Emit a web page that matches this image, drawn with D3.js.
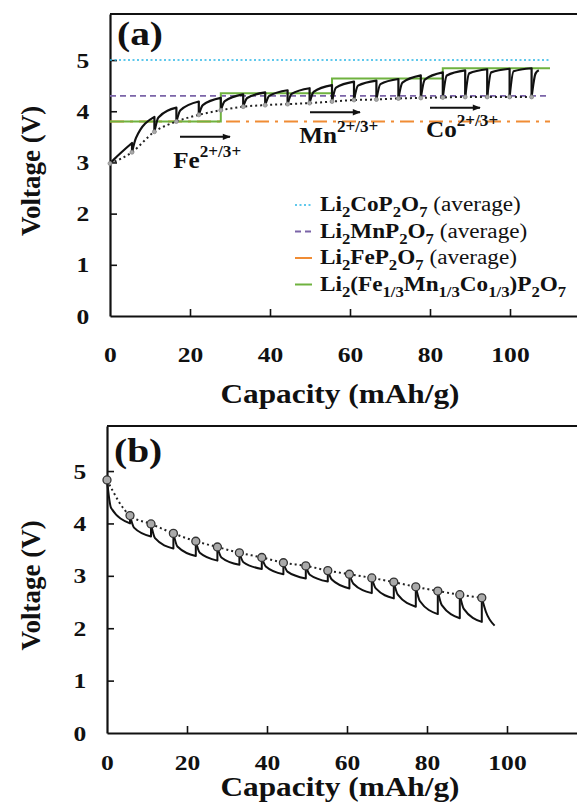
<!DOCTYPE html>
<html>
<head>
<meta charset="utf-8">
<script src="https://cdn.jsdelivr.net/npm/d3@7"></script>
<style>
  body { margin: 0; background: #fff; }
  svg text { font-family: "Liberation Serif", "Times New Roman", serif; fill: #111; }
</style>
</head>
<body>
<svg id="chart"></svg>
<script>
const width = 577, height = 803
const capTicks = [0, 20, 40, 60, 80, 100]
const voltTicks = [0, 1, 2, 3, 4, 5]

// (a) GITT charge: pulse start capacity, relaxed voltage, voltage ~1 mAh/g into the pulse, voltage at pulse end
const chargeCap  = [0, 5.5, 11.1, 16.6, 22.2, 27.7, 33.3, 38.8, 44.4, 49.9, 55.5, 61.0, 66.6, 72.1, 77.7, 83.2, 88.8, 94.3, 99.9, 105.4]
const chargeOcv  = [2.98, 3.20, 3.60, 3.80, 3.93, 4.02, 4.09, 4.12, 4.14, 4.16, 4.19, 4.22, 4.23, 4.25, 4.26, 4.27, 4.28, 4.28, 4.28, 4.28]
const chargeKnee = [3.06, 3.48, 3.88, 4.02, 4.12, 4.20, 4.26, 4.30, 4.34, 4.38, 4.46, 4.50, 4.53, 4.56, 4.62, 4.70, 4.74, 4.76, 4.78, 4.74]
const chargeEnd  = [3.38, 3.89, 4.07, 4.19, 4.26, 4.33, 4.37, 4.41, 4.45, 4.51, 4.58, 4.60, 4.63, 4.70, 4.76, 4.80, 4.82, 4.83, 4.84, 4.80]
const chargeStop = 107.2

// averages of the single-metal pyrophosphates and the mixed one
const refVolt = [5.0, 4.3, 3.8]
const refEnd = 110
const mixCap  = [0, 27.7, 55.5, 83.2, 110]
const mixVolt = [3.8, 4.35, 4.64, 4.84, 4.84]

// (b) GITT discharge
const dischargeCap  = [0, 5.75, 11.0, 16.6, 22.2, 27.6, 33.1, 38.7, 44.1, 49.7, 55.2, 60.6, 66.2, 71.7, 77.2, 82.7, 88.2, 93.7]
const dischargeOcv  = [4.83, 4.15, 3.99, 3.81, 3.66, 3.55, 3.44, 3.35, 3.25, 3.19, 3.10, 3.03, 2.96, 2.88, 2.79, 2.71, 2.64, 2.58]
const dischargeKnee = [4.30, 3.92, 3.72, 3.56, 3.44, 3.35, 3.26, 3.18, 3.08, 3.02, 2.93, 2.85, 2.76, 2.64, 2.52, 2.44, 2.37, 2.32]
const dischargeEnd  = [4.00, 3.75, 3.52, 3.38, 3.29, 3.21, 3.13, 3.03, 2.95, 2.89, 2.76, 2.67, 2.57, 2.41, 2.27, 2.19, 2.12, 2.05]
const dischargeStop = 96.9
const kneeStep = 1

const refColors = ['#2bb7e6', '#7b64a8', '#f08c34']
const refDash = ['2,2.5', '6,4', '14,6,3,6']
const mixColor = '#6fb23f'
const stretch = 1.16   // the source figure is a little wider than tall

const legendLabels = [
  [['Li'], ['2', 'sub'], ['CoP'], ['2', 'sub'], ['O'], ['7', 'sub'], [' (average)', 'n']],
  [['Li'], ['2', 'sub'], ['MnP'], ['2', 'sub'], ['O'], ['7', 'sub'], [' (average)', 'n']],
  [['Li'], ['2', 'sub'], ['FeP'], ['2', 'sub'], ['O'], ['7', 'sub'], ['  (average)', 'n']],
  [['Li'], ['2', 'sub'], ['(Fe'], ['1/3', 'sub'], ['Mn'], ['1/3', 'sub'], ['Co'], ['1/3', 'sub'], [')P'], ['2', 'sub'], ['O'], ['7', 'sub']]
]

const svg = d3.select('#chart').attr('width', width).attr('height', height)
svg.append('rect').attr('width', width).attr('height', height).attr('fill', '#fff')

svg.append('defs').append('marker')
  .attr('id', 'arrow')
  .attr('viewBox', '0 0 10 10')
  .attr('refX', 9).attr('refY', 5)
  .attr('markerUnits', 'userSpaceOnUse')
  .attr('markerWidth', 10).attr('markerHeight', 8)
  .attr('orient', 'auto')
  .append('path').attr('d', 'M0,1L10,5L0,9Z').attr('fill', '#111')

function rich(textSel, parts, size, subScale) {
  let shift = 0
  parts.forEach(([str, kind]) => {
    const target = kind === 'sub' ? 0.3 * size : kind === 'sup' ? -0.45 * size : 0
    textSel.append('tspan')
      .attr('dy', target - shift)
      .attr('font-size', kind === 'sub' || kind === 'sup' ? size * subScale : size)
      .attr('font-weight', kind === 'n' ? 'normal' : 'bold')
      .text(str)
    shift = target
  })
}

function drawFrame(p) {
  const x = d3.scaleLinear().domain([0, 120]).range([p.left, p.left + 480])
  const y = d3.scaleLinear().domain([0, p.vMax]).range([p.bottom, p.top])
  const fmt = d3.format('d')

  const gx = svg.append('g')
    .attr('transform', `translate(0,${p.bottom})`)
    .call(d3.axisBottom(x).tickValues(capTicks).tickFormat(fmt).tickSizeInner(-7).tickSizeOuter(0).tickPadding(p.tickPad))
  const gy = svg.append('g')
    .attr('transform', `translate(${p.left},0)`)
    .call(d3.axisLeft(y).tickValues(voltTicks).tickFormat(fmt).tickSizeInner(-7).tickSizeOuter(0).tickPadding(18))

  ;[gx, gy].forEach(g => {
    g.select('.domain').attr('stroke', '#111').attr('stroke-width', 2.2)
    g.selectAll('.tick line').attr('stroke', '#111').attr('stroke-width', 1.6)
    g.selectAll('.tick').filter(d => d === 0).select('line').remove()
    g.selectAll('.tick text')
      .attr('font-size', 22).attr('font-weight', 'bold')
      .attr('font-family', '"Liberation Serif", "Times New Roman", serif').attr('fill', '#111')
      .attr('transform', `scale(${stretch},1)`)
  })

  svg.append('line')
    .attr('x1', x(0)).attr('x2', x(120))
    .attr('y1', y(p.vMax)).attr('y2', y(p.vMax))
    .attr('stroke', '#111').attr('stroke-width', 2.2)

  svg.append('text')
    .attr('transform', `translate(${p.left + 7},${p.tagY}) scale(${stretch},1)`)
    .attr('font-size', 34).attr('font-weight', 'bold')
    .text(p.tag)

  svg.append('text')
    .attr('transform', `translate(40,${(p.top + p.bottom) / 2 + 6}) rotate(-90)`)
    .attr('text-anchor', 'middle')
    .attr('font-size', 27).attr('font-weight', 'bold')
    .text('Voltage (V)')

  svg.append('text')
    .attr('transform', `translate(340,${p.titleY}) scale(${stretch},1)`)
    .attr('text-anchor', 'middle')
    .attr('font-size', 27).attr('font-weight', 'bold')
    .text('Capacity (mAh/g)')

  return { x, y }
}

function drawGitt(sc, caps, ocv, knee, end, stop, r, strokeW) {
  const { x, y } = sc
  const mono = d3.line().x(d => x(d[0])).y(d => y(d[1])).curve(d3.curveMonotoneX)
  const g = svg.append('g')

  // relaxed (OCV) points, joined by a dotted line
  g.append('path')
    .datum(caps.map((c, i) => [c, ocv[i]]))
    .attr('d', mono)
    .attr('fill', 'none').attr('stroke', '#222')
    .attr('stroke-width', 2).attr('stroke-dasharray', '2,3')

  caps.forEach((c, i) => {
    const next = i < caps.length - 1 ? caps[i + 1] : stop
    let d = mono([[c, ocv[i]], [c + kneeStep, knee[i]], [next, end[i]]])
    if (i < caps.length - 1) d += `L${x(next)},${y(ocv[i + 1])}`
    g.append('path').attr('d', d)
      .attr('fill', 'none').attr('stroke', '#111')
      .attr('stroke-width', strokeW).attr('stroke-linejoin', 'round')
  })

  g.selectAll('circle')
    .data(caps.map((c, i) => [c, ocv[i]]))
    .join('circle')
    .attr('cx', d => x(d[0])).attr('cy', d => y(d[1]))
    .attr('r', r)
    .attr('fill', '#aaa').attr('stroke', r > 3 ? '#333' : '#888').attr('stroke-width', r > 3 ? 1.3 : 0.8)
}

// ---------- panel (a) ----------
const a = drawFrame({ top: 14, bottom: 316, left: 110, vMax: 5.9, tag: '(a)', tagY: 45, tickPad: 30, titleY: 403 })

refVolt.forEach((v, i) => {
  svg.append('line')
    .attr('x1', a.x(0)).attr('x2', a.x(refEnd))
    .attr('y1', a.y(v)).attr('y2', a.y(v))
    .attr('stroke', refColors[i]).attr('stroke-width', i === 2 ? 2 : 1.6)
    .attr('stroke-dasharray', refDash[i])
})

svg.append('path')
  .datum(mixCap.map((c, i) => [c, mixVolt[i]]))
  .attr('d', d3.line().x(d => a.x(d[0])).y(d => a.y(d[1])).curve(d3.curveStepAfter))
  .attr('fill', 'none').attr('stroke', mixColor).attr('stroke-width', 2)

drawGitt(a, chargeCap, chargeOcv, chargeKnee, chargeEnd, chargeStop, 2, 2.2)

const ions = [
  { name: 'Fe', from: 17.5, to: 30, arrowV: 3.5, labelCap: 15.8, labelV: 2.9 },
  { name: 'Mn', from: 50, to: 62.5, arrowV: 3.98, labelCap: 47.3, labelV: 3.38 },
  { name: 'Co', from: 80, to: 92.5, arrowV: 4.07, labelCap: 79, labelV: 3.5 }
]
ions.forEach(ion => {
  svg.append('line')
    .attr('x1', a.x(ion.from)).attr('x2', a.x(ion.to))
    .attr('y1', a.y(ion.arrowV)).attr('y2', a.y(ion.arrowV))
    .attr('stroke', '#111').attr('stroke-width', 2)
    .attr('marker-end', 'url(#arrow)')
  const t = svg.append('text')
    .attr('transform', `translate(${a.x(ion.labelCap)},${a.y(ion.labelV)}) scale(1.05,1)`)
  rich(t, [[ion.name], ['2+/3+', 'sup']], 24, 0.68)
})

const legend = svg.append('g').attr('transform', 'translate(295,205)')
legendLabels.forEach((parts, i) => {
  const row = legend.append('g').attr('transform', `translate(0,${i * 26.5})`)
  const style = i < 3 ? { c: refColors[i], d: i === 2 ? null : refDash[i] } : { c: mixColor, d: null }
  row.append('line')
    .attr('x1', 0).attr('x2', 17).attr('y1', 0).attr('y2', 0)
    .attr('stroke', style.c).attr('stroke-width', i === 0 ? 1.6 : 2)
    .attr('stroke-dasharray', style.d)
  const t = row.append('text').attr('transform', `translate(25,6) scale(${stretch},1)`)
  rich(t, parts, 20, 0.72)
})

// ---------- panel (b) ----------
const b = drawFrame({ top: 426, bottom: 733, left: 107, vMax: 5.86, tag: '(b)', tagY: 462, tickPad: 21, titleY: 796 })
drawGitt(b, dischargeCap, dischargeOcv, dischargeKnee, dischargeEnd, dischargeStop, 4, 2)
</script>
</body>
</html>
